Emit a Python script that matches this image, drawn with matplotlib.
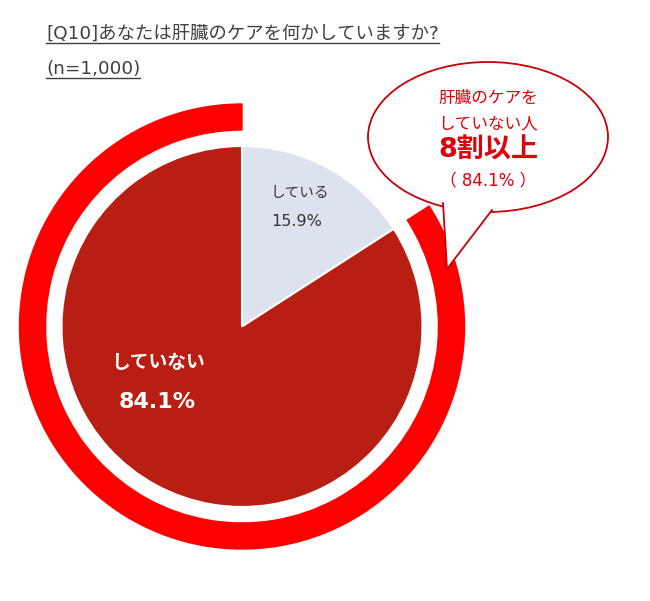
import matplotlib.pyplot as plt
from matplotlib.patches import Wedge, Ellipse, Polygon

# DejaVu for latin glyphs (close to Verdana), Noto CJK for Japanese
plt.rcParams['font.family'] = ['DejaVu Sans', 'Noto Sans CJK JP']

# Data
categories = ['している', 'していない']
values = [15.9, 84.1]
slice_colors = ['#dce3ee', '#b81e11']
title_lines = ['[Q10]あなたは肝臓のケアを何かしていますか?', '(n=1,000)']
callout_lines = ['肝臓のケアを', 'していない人', '8割以上', '（ 84.1% ）']

W, H = 650, 601
fig = plt.figure(figsize=(W / 100, H / 100), dpi=100)
ax = fig.add_axes([0, 0, 1, 1])

def py(y):
    # pixel row (from top) -> data y (up)
    return H - y

cx, cy = 242, py(326.5)
r_pie = 180.5

# pie
ax.pie(values, colors=slice_colors, startangle=90, counterclock=False,
       center=(cx, cy), radius=r_pie,
       wedgeprops=dict(edgecolor='white', linewidth=1.5))

# red ring around the "していない" share
boundary = 90 - 360 * values[0] / 100
ring = Wedge((cx, cy), 222.5, 90, boundary + 360, width=26, color='#ff0000', zorder=1)
ax.add_patch(ring)

# callout bubble
ell = Ellipse((488, py(137)), 240, 150, facecolor='white', edgecolor='#c8000a',
              linewidth=1.3, zorder=5)
ax.add_patch(ell)
tail = [(443, py(203)), (447, py(269)), (492, py(210))]
ax.add_patch(Polygon(tail + [(470, py(190))], closed=True, facecolor='white',
                     edgecolor='none', zorder=6))
ax.plot([p[0] for p in tail], [p[1] for p in tail], color='#c8000a', lw=1.3, zorder=7)

cc = '#e0000c'
ax.text(488, py(98), callout_lines[0], ha='center', va='center', fontsize=12, color=cc, zorder=8)
ax.text(488, py(123), callout_lines[1], ha='center', va='center', fontsize=12, color=cc, zorder=8)
ax.text(488, py(151), callout_lines[2], ha='center', va='center', fontsize=19.5, color=cc,
        fontweight='bold', zorder=8)
ax.text(488, py(180), callout_lines[3], ha='center', va='center', fontsize=12, color=cc, zorder=8)

# slice labels
ax.text(271, py(193), categories[0], ha='left', va='center', fontsize=10.5, color='#333333')
ax.text(271, py(222), f'{values[0]}%', ha='left', va='center', fontsize=11.5, color='#333333')
ax.text(158, py(363), categories[1], ha='center', va='center', fontsize=13.5,
        color='white', fontweight='bold')
ax.text(157, py(402), f'{values[1]}%', ha='center', va='center', fontsize=16,
        color='white', fontweight='bold')

# title with underline
t1 = ax.text(46, py(34), title_lines[0], ha='left', va='center', fontsize=13.2, color='#404040')
t2 = ax.text(46, py(69), title_lines[1], ha='left', va='center', fontsize=13.2, color='#404040')

ax.set_xlim(0, W)
ax.set_ylim(0, H)
ax.set_aspect('equal')
ax.axis('off')

fig.canvas.draw()
renderer = fig.canvas.get_renderer()
inv = ax.transData.inverted()
for t, uy in [(t1, 43), (t2, 78)]:
    bb = t.get_window_extent(renderer)
    (x0, _), (x1, _) = inv.transform([(bb.x0, bb.y0), (bb.x1, bb.y1)])
    ax.plot([x0, x1], [py(uy), py(uy)], color='#404040', lw=1)

fig.savefig('out.png', dpi=100)
